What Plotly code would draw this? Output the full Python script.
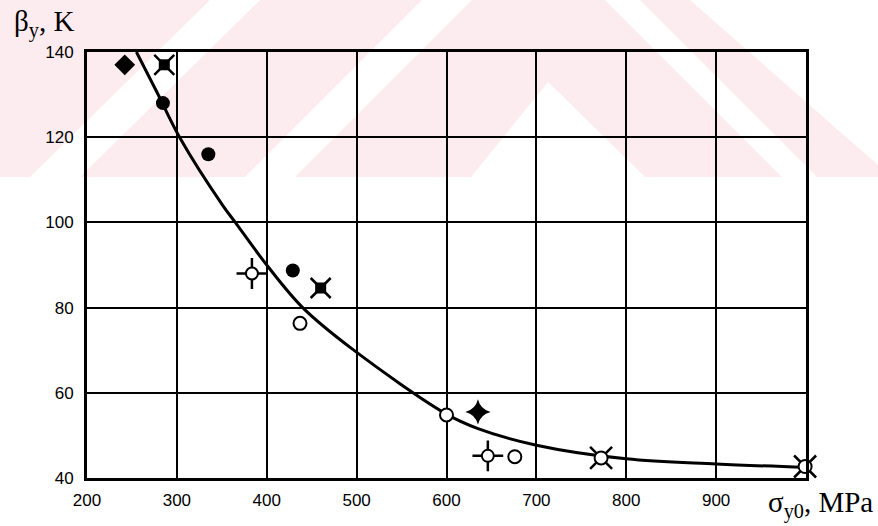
import plotly.graph_objects as go

# ---- data ----
x_ticks = [200, 300, 400, 500, 600, 700, 800, 900]
y_ticks = [40, 60, 80, 100, 120, 140]

curve_x = [255, 278, 303, 351, 365, 400, 440, 495, 600, 635, 700, 800, 900, 1000]
curve_y = [140, 130.5, 120, 104, 100, 90, 80, 70.3, 55, 51.6, 47.7, 44.5, 43.3, 42.5]

diamond_x = [242]
diamond_y = [137]

xsq_x = [286, 460]
xsq_y = [137, 84.6]

dot_x = [284.5, 335, 429]
dot_y = [128, 116, 88.7]

pluscirc_x = [383.5, 646]
pluscirc_y = [88, 45.2]

opencirc_x = [437, 600, 676]
opencirc_y = [76.3, 54.8, 45]

star_x = [635]
star_y = [55.5]

xcirc_x = [772, 999]
xcirc_y = [44.7, 42.7]

# ---- figure ----
fig = go.Figure()

fig.add_trace(go.Scatter(x=curve_x, y=curve_y, mode="lines",
                         line=dict(color="black", width=3, shape="spline", smoothing=1.0),
                         cliponaxis=True, hoverinfo="skip"))

def mk(x, y, symbol, size, color="black", lw=2, lcolor="black"):
    fig.add_trace(go.Scatter(x=x, y=y, mode="markers", cliponaxis=False,
                             marker=dict(symbol=symbol, size=size, color=color,
                                         line=dict(width=lw, color=lcolor))))

mk(diamond_x, diamond_y, "diamond", 16, lw=0)
mk(xsq_x, xsq_y, "x-thin-open", 20, lw=2.5)
mk(xsq_x, xsq_y, "square", 11, lw=0)
mk(dot_x, dot_y, "circle", 14, lw=0)
mk(pluscirc_x, pluscirc_y, "cross-thin-open", 22, lw=2.5)
mk(pluscirc_x, pluscirc_y, "circle", 12, color="white", lw=2)
mk(opencirc_x, opencirc_y, "circle", 13, color="white", lw=2)
mk(star_x, star_y, "star-diamond", 18, lw=0)
mk(xcirc_x, xcirc_y, "x-thin-open", 22, lw=2.5)
mk(xcirc_x, xcirc_y, "circle", 13, color="white", lw=2)

# ---- faint watermark in the top band (decoration) ----
L, R, T, B = 87, 806, 52, 478
def px2paper(px, py):
    return (px - L) / (R - L), (B - py) / (B - T)

def poly(points, color):
    pts = [px2paper(a, b) for a, b in points]
    path = "M " + " L ".join(f"{a:.4f},{b:.4f}" for a, b in pts) + " Z"
    return dict(type="path", path=path, xref="paper", yref="paper",
                fillcolor=color, line=dict(width=0), layer="below")

pink = "rgb(253,236,239)"
white = "white"
shapes = [
    poly([(0, 0), (878, 0), (878, 177), (0, 177)], pink),
    poly([(30, 177), (80, 177), (260, 0), (210, 0)], white),
    poly([(245, 177), (295, 177), (472, 0), (422, 0)], white),
    poly([(471, 177), (548, 82), (645, 177)], white),
    poly([(605, 0), (640, 0), (817, 177), (782, 177)], white),
    poly([(690, 0), (878, 0), (878, 165)], white),
]

fig.update_layout(
    width=878, height=526,
    margin=dict(l=L, r=878 - R, t=T, b=526 - B),
    paper_bgcolor="white", plot_bgcolor="rgba(0,0,0,0)",
    showlegend=False,
    shapes=shapes,
    font=dict(family="Liberation Sans, Arial, sans-serif", color="black", size=17),
)

fig.update_xaxes(range=[200, 1000], tickvals=x_ticks, ticktext=[str(v) for v in x_ticks],
                 showgrid=True, gridcolor="black", gridwidth=1.6,
                 showline=True, linecolor="black", linewidth=2.8, mirror=True,
                 ticks="outside", ticklen=5, tickcolor="rgba(0,0,0,0)",
                 zeroline=False, tickfont=dict(size=17))
fig.update_yaxes(range=[40, 140], tickvals=y_ticks,
                 showgrid=True, gridcolor="black", gridwidth=1.6,
                 showline=True, linecolor="black", linewidth=2.8, mirror=True,
                 ticks="outside", ticklen=7, tickcolor="rgba(0,0,0,0)",
                 zeroline=False, tickfont=dict(size=17))

serif = "Liberation Serif, Times New Roman, serif"
fig.add_annotation(text="β<sub>y</sub>, K", xref="paper", yref="paper",
                   x=px2paper(12, 0)[0], y=px2paper(0, 23)[1],
                   xanchor="left", yanchor="middle", showarrow=False,
                   font=dict(family=serif, size=29, color="black"))
fig.add_annotation(text="σ<sub>y0</sub>, MPa", xref="paper", yref="paper",
                   x=px2paper(875, 0)[0], y=px2paper(0, 505)[1],
                   xanchor="right", yanchor="middle", showarrow=False,
                   font=dict(family=serif, size=29, color="black"))

fig.write_html("out.html", config={"displayModeBar": False},
               post_script="document.body.style.margin='0';document.body.style.overflow='hidden';")
